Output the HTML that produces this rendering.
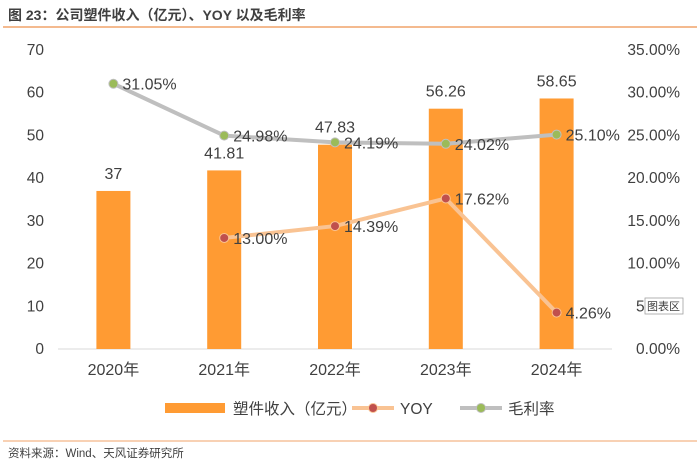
<!DOCTYPE html>
<html><head><meta charset="utf-8"><style>
body{margin:0;background:#fff;font-family:"Liberation Sans","Noto Sans CJK SC",sans-serif}
#wrap{position:relative;width:700px;height:463px;overflow:hidden}
</style></head><body>
<div id="wrap">
<svg id="svg" width="700" height="463" xmlns="http://www.w3.org/2000/svg">
<text x="8" y="20" font-size="14" font-weight="bold" fill="#404040" font-family="Liberation Sans, Noto Sans CJK SC, sans-serif">图 23：公司塑件收入（亿元）、YOY 以及毛利率</text>
<line x1="3" y1="27" x2="697" y2="27" stroke="#F0A36A" stroke-width="1.5"/>
<line x1="3" y1="441" x2="697" y2="441" stroke="#F0A36A" stroke-width="1"/>
<text x="8" y="457" font-size="11.5" fill="#404040" font-family="Liberation Sans, Noto Sans CJK SC, sans-serif">资料来源：Wind、天风证券研究所</text>
<g id="plot"></g>
</svg>
</div>
<script>
const categories=["2020年","2021年","2022年","2023年","2024年"];
const revenue=[37,41.81,47.83,56.26,58.65];
const yoy=[null,13.00,14.39,17.62,4.26];
const margin=[31.05,24.98,24.19,24.02,25.10];
const leftTicks=[0,10,20,30,40,50,60,70];
const rightTicks=[0,5,10,15,20,25,30,35];

const NS="http://www.w3.org/2000/svg";
const g=document.getElementById('plot');
const x0=58,x1=612,yB=349,yT=50;
const yL=v=>yB-(v/70)*(yB-yT);
const yR=v=>yB-(v/35)*(yB-yT);
const xC=i=>x0+(x1-x0)/categories.length*(i+0.5);
function el(t,a){const e=document.createElementNS(NS,t);for(const k in a)e.setAttribute(k,a[k]);g.appendChild(e);return e;}
const F="Liberation Sans, Noto Sans CJK SC, sans-serif";
leftTicks.forEach(v=>{const t=el('text',{x:44,y:yL(v)+5,'text-anchor':'end','font-size':15.5,fill:'#404040','font-family':F});t.textContent=v;

});
rightTicks.forEach(v=>{const t=el('text',{x:680,y:yR(v)+5,'text-anchor':'end','font-size':15.5,fill:'#404040','font-family':F});t.textContent=v.toFixed(2)+'%';

});
const ax=el('line',{x1:x0,y1:yB,x2:x1,y2:yB,stroke:'#D9D9D9','stroke-width':1});


categories.forEach((c,i)=>{const t=el('text',{x:xC(i),y:yB+26,'text-anchor':'middle','font-size':16,fill:'#404040','font-family':F});t.textContent=c;

});
revenue.forEach((v,i)=>{const b=el('rect',{x:xC(i)-17,y:yL(v),width:34,height:yB-yL(v),fill:'#FF9B33'});


const t=el('text',{x:xC(i),y:yL(v)-12,'text-anchor':'middle','font-size':16,fill:'#404040','font-family':F});t.textContent=v;

});
function line(arr,color,mfill,mstroke,name){const pts=[];arr.forEach((v,i)=>{if(v!=null)pts.push([xC(i),yR(v),v]);});
const p=el('polyline',{points:pts.map(q=>q[0]+','+q[1]).join(' '),fill:'none',stroke:color,'stroke-width':4,'stroke-linejoin':'round'});


pts.forEach(q=>{const m=el('circle',{cx:q[0],cy:q[1],r:4.5,fill:mfill,stroke:mstroke,'stroke-width':1});


const t=el('text',{x:q[0]+9,y:q[1]+6,'font-size':16,fill:'#404040','font-family':F});t.textContent=q[2].toFixed(2)+'%';

});}
line(margin,'#BFBFBF','#9BBB59','#BFBFBF','margin');
line(yoy,'#F9C393','#C0504D','#F9C393','yoy');
const ly=408;
const r=el('rect',{x:165,y:ly-5,width:60,height:10,fill:'#FF9B33'});


const lt1=el('text',{x:233,y:ly+6,'font-size':15.5,fill:'#404040','font-family':F});lt1.textContent='塑件收入（亿元）';


[[352,'#F9C393','#C0504D','YOY','legend-yoy'],[460,'#BFBFBF','#9BBB59','毛利率','legend-margin']].forEach(a=>{
const l=el('line',{x1:a[0],y1:ly,x2:a[0]+42,y2:ly,stroke:a[1],'stroke-width':4});


const c=el('circle',{cx:a[0]+21,cy:ly,r:4.5,fill:a[2],stroke:a[1]});


const t=el('text',{x:a[0]+48,y:ly+6,'font-size':15.5,fill:'#404040','font-family':F});t.textContent=a[3];

});
const tb=el('rect',{x:645,y:298,width:38,height:16,fill:'#fff',stroke:'#A0A0A0','stroke-width':0.8});


const tt=el('text',{x:647,y:310,'font-size':11,fill:'#404040','font-family':F});tt.textContent='图表区';


</script>
</body></html>
